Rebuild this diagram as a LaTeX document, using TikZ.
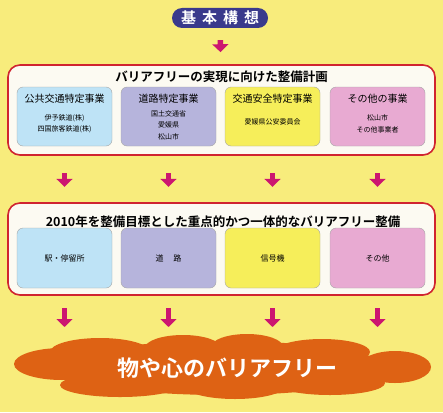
\documentclass[tikz,border=0pt]{standalone}
\usepackage{fontspec}
\setmainfont{Noto Sans CJK JP}[BoldFont={Noto Sans CJK JP Bold}]
\usetikzlibrary{arrows.meta,positioning}
\definecolor{bgyellow}{RGB}{248,236,124}
\definecolor{pillblue}{RGB}{58,58,140}
\definecolor{arrowpink}{RGB}{204,22,112}
\definecolor{framered}{RGB}{208,36,48}
\definecolor{framefill}{RGB}{252,250,242}
\definecolor{boxblue}{RGB}{190,227,246}
\definecolor{boxlilac}{RGB}{182,180,220}
\definecolor{boxyellow}{RGB}{246,238,90}
\definecolor{boxpink}{RGB}{232,170,210}
\definecolor{cloudorange}{RGB}{222,98,20}

\begin{document}
\begin{tikzpicture}[x=1pt,y=-1pt,pill/.style={fill=pillblue,rounded corners=10pt,minimum width=96pt,minimum height=20pt,text=white,font=\bfseries\fontsize{15}{15}\selectfont,inner sep=0pt},frame/.style={draw=framered,line width=1.6pt,fill=framefill,rounded corners=12pt,minimum width=427pt,inner sep=0pt},subbox/.style={draw=black!35,line width=0.4pt,rounded corners=6pt,minimum width=95pt,inner sep=0pt},heading/.style={font=\bfseries\fontsize{12.5}{13}\selectfont,inner sep=0pt},boxtitle/.style={font=\fontsize{10}{11}\selectfont,inner sep=0pt},boxtext/.style={font=\fontsize{7}{11.5}\selectfont,align=center,inner sep=0pt},bigarrow/.style={draw=arrowpink,line width=5.5pt,-{Triangle[width=16pt,length=8pt]}}]
	\fill[bgyellow] (0,0) rectangle (443,412);
	\useasboundingbox (0,0) rectangle (443,412);

	\node[pill]							(kihon)		at (220,18)				{基\hspace{6pt}本\hspace{6pt}構\hspace{6pt}想};

	% upper frame
	\node[frame,minimum height=90pt]	(keikaku)	at (221.5,110)			{};
	\node[heading]						(keikakuT)	at (221.5,77)			{バリアフリーの実現に向けた整備計画};
	\node[subbox,fill=boxblue,minimum height=59pt]		(kokyo)		at (64.5,116.5)		{};
	\node[subbox,fill=boxlilac,minimum height=59pt]		(doro)		at (168.5,116.5)	{};
	\node[subbox,fill=boxyellow,minimum height=59pt]	(kotsu)		at (272.5,116.5)	{};
	\node[subbox,fill=boxpink,minimum height=59pt]		(sonota)	at (377.5,116.5)	{};
	\node[boxtitle]	(kokyoT)	[below=7pt of kokyo.north]		{公共交通特定事業};
	\node[boxtitle]	(doroT)		[below=7pt of doro.north]		{道路特定事業};
	\node[boxtitle]	(kotsuT)	[below=7pt of kotsu.north]		{交通安全特定事業};
	\node[boxtitle]	(sonotaT)	[below=7pt of sonota.north]		{その他の事業};
	\node[boxtext]	(kokyoB)	at (64.5,123.5)		{伊予鉄道(株)\\四国旅客鉄道(株)};
	\node[boxtext]	(doroB)		at (168.5,125)		{国土交通省\\愛媛県\\松山市};
	\node[boxtext]	(kotsuB)	at (272.5,122)		{愛媛県公安委員会};
	\node[boxtext]	(sonotaB)	at (377.5,124)		{松山市\\その他事業者};

	% lower frame
	\node[frame,minimum height=92pt]	(seibi)		at (221.5,249)			{};
	\node[heading]						(seibiT)	at (223,222)			{2010年を整備目標とした重点的かつ一体的なバリアフリー整備};
	\node[subbox,fill=boxblue,minimum height=60pt]		(eki)		at (64.5,258)		{};
	\node[subbox,fill=boxlilac,minimum height=60pt]		(michi)		at (168.5,258)		{};
	\node[subbox,fill=boxyellow,minimum height=60pt]	(shingo)	at (272.5,258)		{};
	\node[subbox,fill=boxpink,minimum height=60pt]		(hoka)		at (377.5,258)		{};
	\node[boxtext,font=\fontsize{8}{9}\selectfont]	at (eki)		{駅・停留所};
	\node[boxtext,font=\fontsize{8}{9}\selectfont]	at (michi)		{道\hspace{1.2em}路};
	\node[boxtext,font=\fontsize{8}{9}\selectfont]	at (shingo)		{信号機};
	\node[boxtext,font=\fontsize{8}{9}\selectfont]	at (hoka)		{その他};

	% cloud
	\begin{scope}[fill=cloudorange]
		\fill (222,368) ellipse (165 and 27);
		\fill (100,352) ellipse (50 and 14);
		\fill (183,348) ellipse (38 and 13);
		\fill (247,347) ellipse (36 and 13);
		\fill (322,352) ellipse (48 and 13);
		\fill (62,364) ellipse (48 and 16);
		\fill (395,367) ellipse (36 and 16);
		\fill (120,385) ellipse (60 and 12);
		\fill (235,386) ellipse (50 and 13);
		\fill (330,383) ellipse (55 and 12);
	\end{scope}
	\coordinate (kumo) at (222,335);
	\node[text=white,font=\bfseries\fontsize{22}{22}\selectfont,inner sep=0pt]	(mokuhyo)	at (227,368)	{物や心のバリアフリー};

	\draw[bigarrow,shorten <=12pt,shorten >=12pt] (kihon) -- (keikaku);
	\foreach \a/\b in {kokyo/eki,doro/michi,kotsu/shingo,sonota/hoka}{
		\draw[bigarrow,shorten <=27pt,shorten >=41pt] (\a.south) -- (\b.north);
		\draw[bigarrow,shorten <=20pt,shorten >=8pt] (\b.south) -- (\b.south |- kumo);
	}
\end{tikzpicture}
\end{document}
